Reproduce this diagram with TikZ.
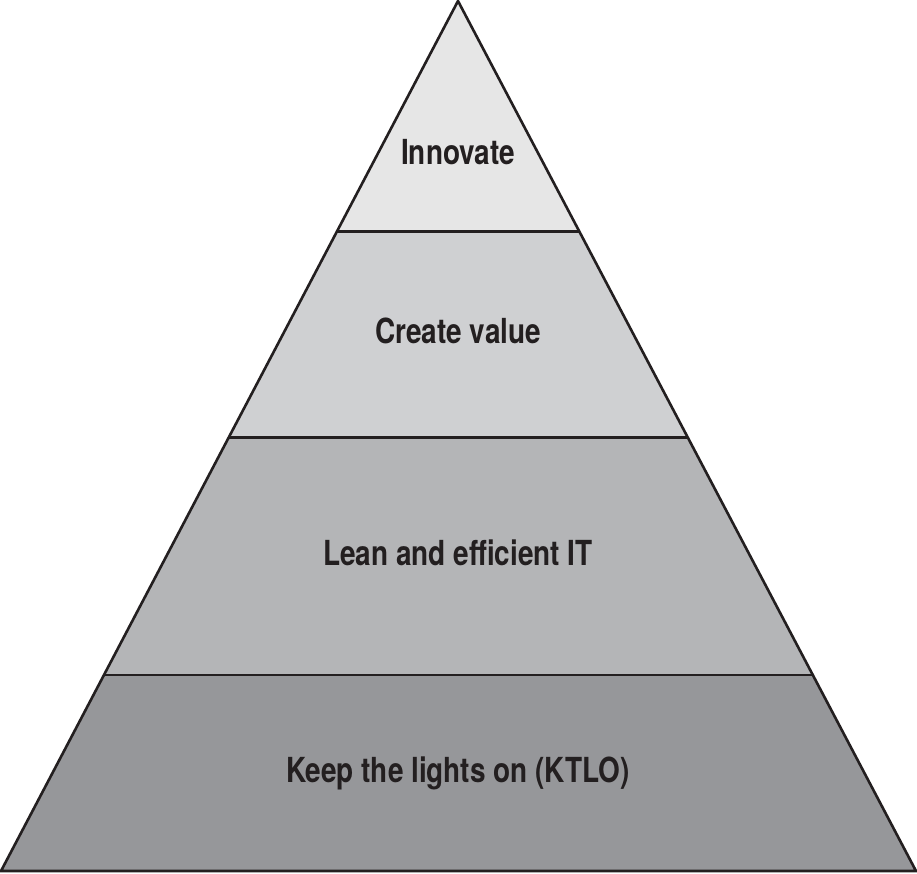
\documentclass[tikz,border=0pt]{standalone}
\usepackage{fontspec}
\setmainfont{TeX Gyre Heros}[FakeStretch=0.81]
\usetikzlibrary{calc}
\definecolor{lay1}{HTML}{E6E6E6}
\definecolor{lay2}{HTML}{CFD0D2}
\definecolor{lay3}{HTML}{B4B5B7}
\definecolor{lay4}{HTML}{96979A}
\definecolor{ink}{HTML}{231F20}
\tikzset{
  label/.style={font=\fontsize{34.5}{38}\selectfont\bfseries, text=ink, inner sep=0pt},
  edge/.style={draw=ink, line width=2.6pt, line join=miter},
}
\begin{document}
\begin{tikzpicture}[x=1pt,y=1pt]
\useasboundingbox (0,0) rectangle (917,873);
\coordinate (A) at (458,872);
\coordinate (BL) at (1,2);
\coordinate (BR) at (916,2);
\coordinate (L1) at ($(A)!0.2647!(BL)$);
\coordinate (R1) at ($(A)!0.2647!(BR)$);
\coordinate (L2) at ($(A)!0.5017!(BL)$);
\coordinate (R2) at ($(A)!0.5017!(BR)$);
\coordinate (L3) at ($(A)!0.7745!(BL)$);
\coordinate (R3) at ($(A)!0.7745!(BR)$);
\fill[lay1] (A) -- (R1) -- (L1) -- cycle;
\fill[lay2] (L1) -- (R1) -- (R2) -- (L2) -- cycle;
\fill[lay3] (L2) -- (R2) -- (R3) -- (L3) -- cycle;
\fill[lay4] (L3) -- (R3) -- (BR) -- (BL) -- cycle;
\draw[edge] (L1) -- (R1);
\draw[edge] (L2) -- (R2);
\draw[edge] (L3) -- (R3);
\draw[edge] (A) -- (BR) -- (BL) -- cycle;
\node[label] (t1) at (458,721) {Innovate};
\node[label] (t2) at (458,542) {Create value};
\node[label] (t3) at (458,320) {Lean and efficient IT};
\node[label] (t4) at (458,100) {Keep the lights on (KTLO)};
\end{tikzpicture}
\end{document}
